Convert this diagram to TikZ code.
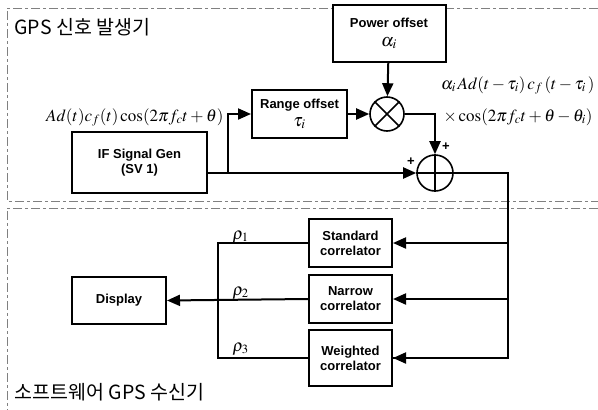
\documentclass[tikz,border=0pt]{standalone}
\usepackage{mathptmx}
\usepackage[no-math]{fontspec}
\setmainfont{Liberation Sans}
\newfontfamily\krfont{Noto Sans CJK KR}
\usetikzlibrary{arrows.meta}

\begin{document}
\begin{tikzpicture}[x=1pt, y=-1pt,
        every node/.style={font=\bfseries\fontsize{13}{15}\selectfont, align=center},
        block/.style={draw, fill=white, line width=2pt, inner sep=0pt},
        sumop/.style={draw, circle, fill=white, line width=1.6pt, inner sep=0pt},
        link/.style={line width=2pt},
        flow/.style={link, -{Triangle[length=13pt, width=11pt]}},
        frame/.style={draw=gray, dashed, dash pattern=on 9pt off 3pt on 3pt off 3pt, line width=0.9pt},
        eq/.style={font=\fontsize{17}{20}\selectfont},
        title/.style={anchor=west, font=\krfont\fontsize{19.5}{22}\selectfont}
      ]
        \useasboundingbox (0,0) rectangle (598,410);
        % dashed frames
        \draw[frame] (598,8) -- (7,8) -- (7,201) -- (598,201);
        \draw[frame] (598,208) -- (7,208) -- (7,410);
        \node[title] (gentitle) at (11,27) {GPS 신호 발생기};
        \node[title] (rxtitle) at (11,392) {소프트웨어 GPS 수신기};

        % generator
        \node[block, minimum width=113pt, minimum height=57pt] (power) at (389,33.5) {Power offset\\[4pt] {\fontsize{18}{18}\selectfont$\alpha_i$}};
        \node[block, minimum width=95pt, minimum height=48pt] (range) at (299.5,114) {Range offset\\[3pt] {\fontsize{18}{18}\selectfont$\tau_i$}};
        \node[block, minimum width=135pt, minimum height=61pt] (ifgen) at (139.5,162.5) {IF Signal Gen\\ (SV 1)};
        \node[sumop, minimum size=34pt] (mult) at (387,114) {};
        \draw[line width=1.6pt] (mult.45) -- (mult.225) (mult.135) -- (mult.315);
        \node[sumop, minimum size=36pt] (adder) at (435,173) {};
        \draw[line width=1.6pt] (adder.north) -- (adder.south) (adder.east) -- (adder.west);
        \node (plustop) at (446,147) {+};
        \node (plusleft) at (411,162) {+};

        \coordinate (ifout) at (207,173);
        \coordinate (split) at (228,173);
        \draw[flow] (ifout) -- (adder.west);
        \draw[flow] (split) |- (range.west);
        \draw[flow] (range) -- (mult);
        \draw[flow] (power) -- (mult);
        \draw[flow] (mult.east) -| (adder.north);

        \node[eq, anchor=base east] (siglabel) at (227,121) {$Ad(t)c_f(t)\cos(2\pi f_c t+\theta)$};
        \node[eq, anchor=base east] (outline1) at (598,89) {$\alpha_i\,Ad(t-\tau_i)\,c_f\,(t-\tau_i\,)$};
        \node[eq, anchor=base east] (outline2) at (596,121) {$\times\cos(2\pi f_c t+\theta-\theta_i)$};

        % receiver
        \node[block, minimum width=83pt, minimum height=48pt] (std) at (350.5,243) {Standard\\ correlator};
        \node[block, minimum width=83pt, minimum height=48pt] (narrow) at (350.5,299) {Narrow\\ correlator};
        \node[block, minimum width=83pt, minimum height=56pt] (weighted) at (350.5,358) {Weighted\\ correlator};
        \node[block, minimum width=94pt, minimum height=47pt] (display) at (119,300.5) {Display};

        \coordinate (bus) at (508,173);
        \draw[link] (adder.east) -- (bus) |- (weighted.east);
        \draw[flow] (bus |- std.east) -- (std.east);
        \draw[flow] (bus |- narrow.east) -- (narrow.east);
        \draw[flow] (bus |- weighted.east) -- (weighted.east);

        \coordinate (merge) at (218,299);
        \draw[link] (std.west) -| (merge) |- (weighted.west);
        \draw[flow] (narrow.west) -- (display.east);
        \node[eq, anchor=base west] (rho1) at (229,239) {$\rho_1$};
        \node[eq, anchor=base west] (rho2) at (229,295) {$\rho_2$};
        \node[eq, anchor=base west] (rho3) at (229,351) {$\rho_3$};
      \end{tikzpicture}
\end{document}
